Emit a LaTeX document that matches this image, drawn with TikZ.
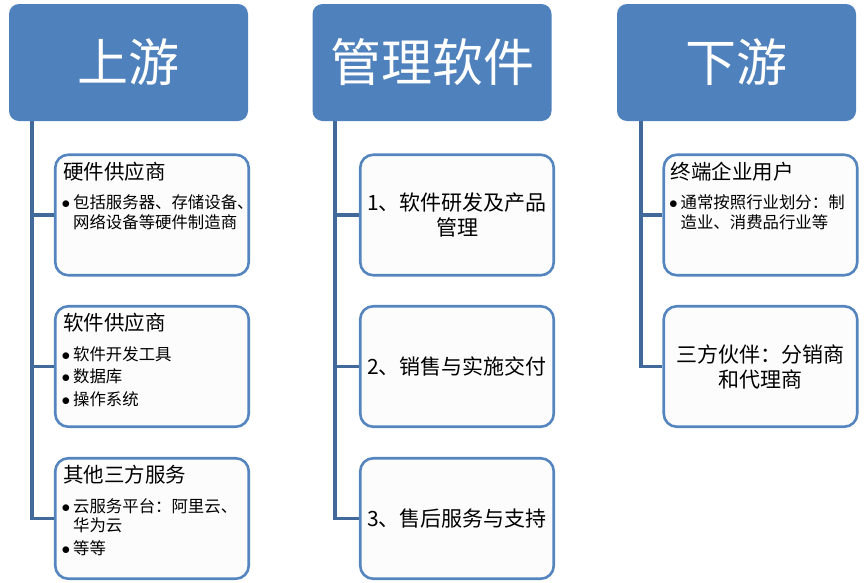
\documentclass[tikz,border=0pt]{standalone}
\usepackage{fontspec}
\setmainfont{Noto Sans CJK SC}
\definecolor{headblue}{HTML}{4F81BD}
\definecolor{boxblue}{HTML}{5585BE}
\definecolor{lineblue}{HTML}{41699A}
\definecolor{boxfill}{HTML}{FCFCFD}
\newcommand{\bul}{\makebox[10pt][l]{\hspace*{-1.5pt}$\bullet$}}
\newcommand{\hang}{\hspace*{10pt}}
\begin{document}
\begin{tikzpicture}[x=1pt,y=-1pt,
  head/.style={fill=headblue, rounded corners=10pt, minimum width=239pt, minimum height=117pt,
    text=white, font=\fontsize{51}{56}\selectfont, inner sep=0pt},
  child/.style={draw=boxblue, line width=2.6pt, fill=boxfill, rounded corners=13pt,
    minimum width=193.5pt, minimum height=120.5pt, inner sep=0pt},
  ctext/.style={align=center, font=\fontsize{21}{25}\selectfont, inner sep=0pt},
  htext/.style={anchor=north west, align=left, inner sep=0pt, font=\fontsize{20.5}{24}\selectfont},
  btext/.style={anchor=north west, align=left, inner sep=0pt, font=\fontsize{16.4}{19.5}\selectfont},
  conn/.style={draw=lineblue, line width=3.2pt}
]
\useasboundingbox (0,0) rectangle (865,582);

% headers
\node[head] (hu) at (128.5,62.5) {上游};
\node[head] (hm) at (432,62.5) {管理软件};
\node[head] (hd) at (736.5,62.5) {下游};

% upstream boxes
\node[child] (u1) at (152,215) {};
\node[child] (u2) at (152,366.5) {};
\node[child] (u3) at (152,518.5) {};
% middle boxes
\node[child] (m1) at (457,215) {};
\node[child] (m2) at (457,366.5) {};
\node[child] (m3) at (457,518.5) {};
% downstream boxes
\node[child] (d1) at (760.5,215) {};
\node[child] (d2) at (760.5,366.5) {};

% connectors
\coordinate (uL) at (32,121);
\coordinate (mL) at (335,121);
\coordinate (dL) at (641,121);
\draw[conn] (uL) |- (u3.west);
\draw[conn] (uL |- u1.west) -- (u1.west);
\draw[conn] (uL |- u2.west) -- (u2.west);
\draw[conn] (mL) |- (m3.west);
\draw[conn] (mL |- m1.west) -- (m1.west);
\draw[conn] (mL |- m2.west) -- (m2.west);
\draw[conn] (dL) |- (d2.west);
\draw[conn] (dL |- d1.west) -- (d1.west);

% upstream texts
\node[htext] (u1h) at ([shift={(9,8)}]u1.north west) {硬件供应商};
\node[btext] (u1b) at ([shift={(9,41)}]u1.north west) {\bul 包括服务器、存储设备、\\\hang 网络设备等硬件制造商};
\node[htext] (u2h) at ([shift={(9,8)}]u2.north west) {软件供应商};
\node[btext] (u2b) at ([shift={(9,41)}]u2.north west) {\bul 软件开发工具\\[3pt]\bul 数据库\\[3pt]\bul 操作系统};
\node[htext] (u3h) at ([shift={(9,8)}]u3.north west) {其他三方服务};
\node[btext] (u3b) at ([shift={(9,41)}]u3.north west) {\bul 云服务平台：阿里云、\\\hang 华为云\\[3pt]\bul 等等};

% middle texts
\node[ctext] (m1t) at (m1) {1、软件研发及产品\\管理};
\node[ctext] (m2t) at (m2) {2、销售与实施交付};
\node[ctext] (m3t) at (m3) {3、售后服务与支持};

% downstream texts
\node[htext] (d1h) at ([shift={(8,8)}]d1.north west) {终端企业用户};
\node[btext] (d1b) at ([shift={(8,41)}]d1.north west) {\bul 通常按照行业划分：制\\\hang 造业、消费品行业等};
\node[ctext] (d2t) at (d2) {三方伙伴：分销商\\和代理商};
\end{tikzpicture}
\end{document}
